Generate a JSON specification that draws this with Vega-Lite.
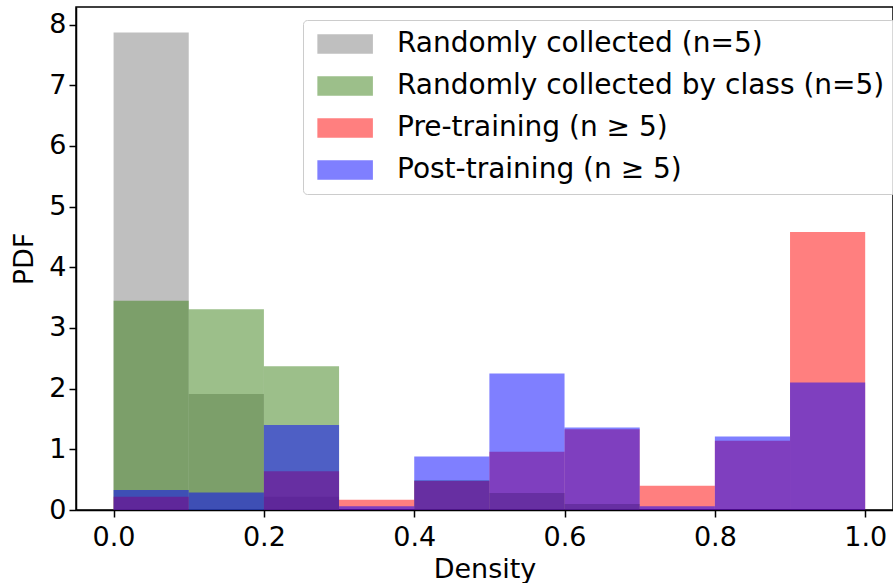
{
  "$schema": "https://vega.github.io/schema/vega-lite/v6.json",
  "autosize": "none",
  "padding": {"left": 76, "top": 7, "right": 0, "bottom": 73},
  "width": 817,
  "height": 503,
  "background": "white",
  "config": {
    "font": "DejaVu Sans",
    "view": {"stroke": "black", "strokeWidth": 1.5},
    "axis": {
      "grid": false,
      "domainColor": "black",
      "domainWidth": 1.5,
      "tickColor": "black",
      "tickWidth": 1.5,
      "tickSize": 7,
      "labelFont": "DejaVu Sans",
      "labelFontSize": 27,
      "labelColor": "black",
      "labelPadding": 3,
      "titleFont": "DejaVu Sans",
      "titleFontSize": 27,
      "titleFontWeight": "normal",
      "titleColor": "black"
    }
  },
  "data": {
    "values": [
      {"series": "Randomly collected (n=5)", "start": 0.0, "end": 0.1, "pdf": 7.87},
      {"series": "Randomly collected (n=5)", "start": 0.1, "end": 0.2, "pdf": 1.91},
      {"series": "Randomly collected (n=5)", "start": 0.2, "end": 0.3, "pdf": 0.22},
      {"series": "Randomly collected by class (n=5)", "start": 0.0, "end": 0.1, "pdf": 3.45},
      {"series": "Randomly collected by class (n=5)", "start": 0.1, "end": 0.2, "pdf": 3.31},
      {"series": "Randomly collected by class (n=5)", "start": 0.2, "end": 0.3, "pdf": 2.37},
      {"series": "Randomly collected by class (n=5)", "start": 0.4, "end": 0.5, "pdf": 0.49},
      {"series": "Randomly collected by class (n=5)", "start": 0.5, "end": 0.6, "pdf": 0.28},
      {"series": "Randomly collected by class (n=5)", "start": 0.6, "end": 0.7, "pdf": 0.1},
      {"series": "Pre-training (n ≥ 5)", "start": 0.0, "end": 0.1, "pdf": 0.22},
      {"series": "Pre-training (n ≥ 5)", "start": 0.2, "end": 0.3, "pdf": 0.64},
      {"series": "Pre-training (n ≥ 5)", "start": 0.3, "end": 0.4, "pdf": 0.17},
      {"series": "Pre-training (n ≥ 5)", "start": 0.4, "end": 0.5, "pdf": 0.48},
      {"series": "Pre-training (n ≥ 5)", "start": 0.5, "end": 0.6, "pdf": 0.96},
      {"series": "Pre-training (n ≥ 5)", "start": 0.6, "end": 0.7, "pdf": 1.33},
      {"series": "Pre-training (n ≥ 5)", "start": 0.7, "end": 0.8, "pdf": 0.4},
      {"series": "Pre-training (n ≥ 5)", "start": 0.8, "end": 0.9, "pdf": 1.14},
      {"series": "Pre-training (n ≥ 5)", "start": 0.9, "end": 1.0, "pdf": 4.58},
      {"series": "Post-training (n ≥ 5)", "start": 0.0, "end": 0.1, "pdf": 0.33},
      {"series": "Post-training (n ≥ 5)", "start": 0.1, "end": 0.2, "pdf": 0.29},
      {"series": "Post-training (n ≥ 5)", "start": 0.2, "end": 0.3, "pdf": 1.4},
      {"series": "Post-training (n ≥ 5)", "start": 0.3, "end": 0.4, "pdf": 0.06},
      {"series": "Post-training (n ≥ 5)", "start": 0.4, "end": 0.5, "pdf": 0.88},
      {"series": "Post-training (n ≥ 5)", "start": 0.5, "end": 0.6, "pdf": 2.25},
      {"series": "Post-training (n ≥ 5)", "start": 0.6, "end": 0.7, "pdf": 1.36},
      {"series": "Post-training (n ≥ 5)", "start": 0.7, "end": 0.8, "pdf": 0.06},
      {"series": "Post-training (n ≥ 5)", "start": 0.8, "end": 0.9, "pdf": 1.21},
      {"series": "Post-training (n ≥ 5)", "start": 0.9, "end": 1.0, "pdf": 2.1}
    ]
  },
  "mark": {"type": "bar", "opacity": 0.5, "strokeWidth": 0},
  "encoding": {
    "x": {
      "field": "start",
      "type": "quantitative",
      "title": "Density",
      "scale": {"domain": [-0.05, 1.037], "nice": false, "zero": false},
      "axis": {"values": [0, 0.2, 0.4, 0.6, 0.8, 1.0], "format": ".1f", "labelFlush": false, "labelOverlap": false, "labelPadding": 7, "titlePadding": 6}
    },
    "x2": {"field": "end"},
    "y": {
      "field": "pdf",
      "type": "quantitative",
      "title": "PDF",
      "stack": null,
      "scale": {"domain": [0, 8.29], "nice": false},
      "axis": {"values": [0, 1, 2, 3, 4, 5, 6, 7, 8], "titlePadding": 10}
    },
    "y2": {"datum": 0},
    "color": {
      "field": "series",
      "type": "nominal",
      "sort": null,
      "scale": {
        "domain": ["Randomly collected (n=5)", "Randomly collected by class (n=5)", "Pre-training (n ≥ 5)", "Post-training (n ≥ 5)"],
        "range": ["#808080", "#3a8016", "#ff0000", "#0000ff"]
      },
      "legend": {
        "title": null,
        "orient": "none",
        "legendX": 227,
        "legendY": 13,
        "padding": 10,
        "fillColor": "rgba(255,255,255,0.8)",
        "strokeColor": "#cccccc",
        "cornerRadius": 4,
        "symbolType": "M-1,-1H4.76V1H-1Z",
        "symbolSize": 372,
        "symbolOpacity": 0.5,
        "symbolStrokeWidth": 0,
        "labelFontSize": 28,
        "labelFont": "DejaVu Sans",
        "labelColor": "black",
        "labelOffset": 56,
        "labelLimit": 700,
        "rowPadding": 14
      }
    }
  }
}
